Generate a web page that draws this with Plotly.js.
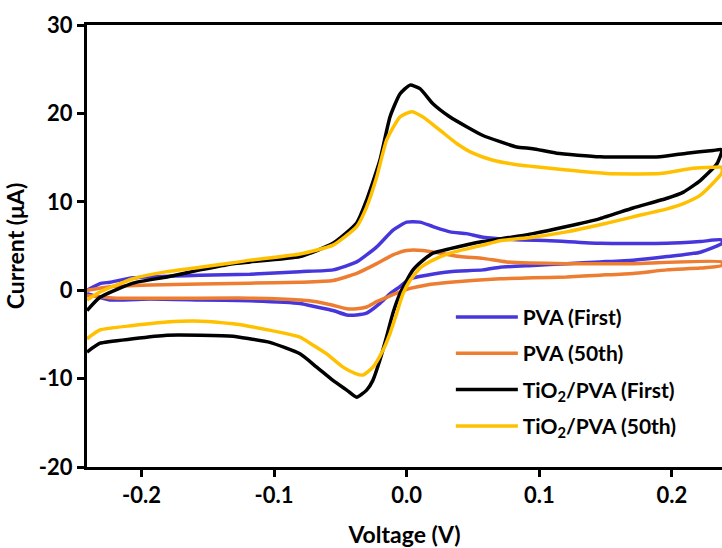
<!DOCTYPE html>
<html>
<head>
<meta charset="utf-8">
<script src="https://cdn.plot.ly/plotly-3.0.1.min.js"></script>
<style>html,body{margin:0;padding:0;background:#fff;}#chart{width:722px;height:548px;}</style>
</head>
<body>
<div id="chart"></div>
<script>
// Series names and colours
const seriesNames = ["PVA (First)", "PVA (50th)", "TiO<sub>2</sub>/PVA (First)", "TiO<sub>2</sub>/PVA (50th)"];
const seriesColors = ["#4636DC", "#ED7D31", "#000000", "#FFC000"];

// PVA (First)
const pvaFirstV = [-0.2411,-0.2313,-0.2238,-0.2064,-0.1559,-0.1182,-0.0805,-0.0556,-0.0377,-0.0226,-0.0103,0.0000,0.0100,0.0198,0.0327,0.0452,0.0575,0.0830,0.1081,0.1458,0.1964,0.2214,0.2378,
  0.2378,0.2214,0.1964,0.1707,0.1458,0.1206,0.0952,0.0704,0.0575,0.0327,0.0151,0.0025,-0.0051,-0.0126,-0.0202,-0.0302,-0.0377,-0.0452,-0.0556,-0.0679,-0.0805,-0.1182,-0.1559,-0.1935,-0.2238,-0.2411];
const pvaFirstI = [0.0,0.75,0.9,1.4,1.7,1.8,2.1,2.3,3.2,4.9,6.8,7.7,7.7,7.2,6.6,6.4,6.0,5.7,5.6,5.3,5.3,5.5,5.7,
  5.3,4.3,3.8,3.4,3.2,3.0,2.8,2.6,2.3,2.1,1.7,1.3,0.4,-0.4,-1.5,-2.6,-2.8,-2.8,-2.3,-1.9,-1.5,-1.2,-1.1,-1.0,-1.1,-0.4];

// PVA (50th)
const pva50V = [-0.2411,-0.2238,-0.1935,-0.1182,-0.0805,-0.0556,-0.0377,-0.0226,-0.0103,0.0000,0.0123,0.0251,0.0402,0.0575,0.0754,0.1206,0.1707,0.2378,
  0.2378,0.2214,0.1964,0.1707,0.1458,0.1206,0.0952,0.0704,0.0327,0.0151,0.0025,-0.0051,-0.0151,-0.0226,-0.0302,-0.0377,-0.0452,-0.0556,-0.0679,-0.0805,-0.1182,-0.2185,-0.2411];
const pva50I = [0.0,0.4,0.6,0.8,0.9,1.1,1.9,3.0,4.0,4.5,4.5,4.2,3.8,3.6,3.2,3.0,3.0,3.2,
  2.8,2.5,2.3,1.9,1.7,1.5,1.4,1.3,0.9,0.6,0.2,-0.2,-0.8,-1.3,-1.9,-2.1,-2.1,-1.7,-1.3,-1.1,-0.9,-0.9,-0.6];

// TiO2/PVA (First)
const tioFirstV = [-0.2411,-0.2313,-0.2064,-0.1808,-0.1559,-0.1310,-0.1182,-0.0805,-0.0556,-0.0377,-0.0302,-0.0202,-0.0126,-0.0051,0.0025,0.0100,0.0198,0.0327,0.0452,0.0575,0.0704,0.0830,0.0952,0.1131,0.1458,0.1910,0.2112,0.2310,0.2378,
  0.2340,0.2214,0.2087,0.1964,0.1707,0.1458,0.1206,0.0952,0.0704,0.0575,0.0327,0.0198,0.0124,0.0048,0.0000,-0.0051,-0.0104,-0.0152,-0.0202,-0.0255,-0.0302,-0.0377,-0.0452,-0.0556,-0.0679,-0.0805,-0.1032,-0.1182,-0.1310,-0.1559,-0.1808,-0.2064,-0.2313,-0.2411];
const tioFirstI = [-2.3,-0.8,0.8,1.5,2.3,3.0,3.2,3.8,5.3,7.6,10.2,14.7,19.6,22.2,23.2,22.8,21.1,19.6,18.5,17.5,16.8,16.2,16.0,15.5,15.1,15.1,15.5,15.8,15.9,
  14.3,12.4,11.1,10.4,9.3,8.1,7.2,6.4,5.8,5.5,4.7,4.2,3.4,2.3,1.1,-0.4,-2.6,-5.3,-7.9,-10.2,-11.3,-12.1,-11.3,-10.2,-8.7,-7.2,-5.9,-5.5,-5.2,-5.1,-5.1,-5.5,-6.0,-7.0];

// TiO2/PVA (50th)
const tio50V = [-0.2411,-0.2313,-0.2064,-0.1808,-0.1559,-0.1310,-0.1182,-0.0805,-0.0556,-0.0377,-0.0302,-0.0226,-0.0151,-0.0051,0.0038,0.0123,0.0251,0.0377,0.0500,0.0651,0.0830,0.0952,0.1206,0.1508,0.1910,0.2159,0.2310,0.2378,
  0.2378,0.2310,0.2210,0.2087,0.1964,0.1707,0.1458,0.1206,0.0952,0.0704,0.0575,0.0327,0.0198,0.0100,0.0025,-0.0028,-0.0075,-0.0126,-0.0179,-0.0254,-0.0330,-0.0390,-0.0480,-0.0603,-0.0729,-0.0805,-0.1182,-0.1310,-0.1559,-0.1808,-0.2064,-0.2313,-0.2411];
const tio50I = [-1.1,-0.2,1.3,2.1,2.6,3.1,3.4,4.1,5.1,7.2,9.4,12.8,17.0,19.6,20.2,19.6,18.1,16.6,15.5,14.7,14.2,14.0,13.6,13.2,13.2,13.8,13.9,13.9,
  13.3,12.1,10.7,9.8,9.2,8.3,7.4,6.6,6.0,5.6,5.1,4.2,3.4,2.5,1.1,-0.4,-2.6,-4.9,-6.8,-8.7,-9.6,-9.4,-8.7,-7.2,-6.0,-5.3,-4.1,-3.8,-3.5,-3.6,-4.0,-4.5,-5.5];

// Axis ticks
const xTickVals = [-0.2, -0.1, 0.0, 0.1, 0.2];
const xTickText = ["-0.2", "-0.1", "0.0", "0.1", "0.2"];
const yTickVals = [-20, -10, 0, 10, 20, 30];
const yTickText = ["-20", "-10", "0", "10", "20", "30"];

const xs = [pvaFirstV, pva50V, tioFirstV, tio50V];
const ys = [pvaFirstI, pva50I, tioFirstI, tio50I];

const FONT = "Lato, 'Open Sans', sans-serif";

const traces = xs.map((x, i) => ({
  type: "scatter",
  mode: "lines",
  x: x,
  y: ys[i],
  name: seriesNames[i],
  legendgroup: "g" + i,
  line: {color: seriesColors[i], width: 3.5, shape: "spline", smoothing: 0.5},
  hoverinfo: "skip"
}));

const layout = {
  width: 722,
  height: 548,
  margin: {l: 87, r: 0, t: 25, b: 81},
  paper_bgcolor: "#ffffff",
  plot_bgcolor: "#ffffff",
  font: {family: FONT, color: "#000", size: 22, weight: "bold"},
  showlegend: true,
  legend: {
    x: 0.573, y: 0.385, xanchor: "left", yanchor: "top",
    bgcolor: "rgba(0,0,0,0)",
    font: {family: FONT, size: 21, color: "#000", weight: "bold"},
    tracegroupgap: 6,
    itemwidth: 62
  },
  xaxis: {
    range: [-0.2411, 0.2378],
    tickvals: xTickVals, ticktext: xTickText,
    showgrid: false, zeroline: false,
    showline: true, linecolor: "#000", linewidth: 3, mirror: true,
    ticks: "outside", ticklen: 7, tickwidth: 3, tickcolor: "#000",
    tickfont: {family: FONT, size: 22, color: "#000", weight: "bold"},
    title: {text: "Voltage (V)", font: {family: FONT, size: 23, color: "#000", weight: "bold"}, standoff: 20}
  },
  yaxis: {
    range: [-20, 30],
    tickvals: yTickVals, ticktext: yTickText,
    showgrid: false, zeroline: false,
    showline: true, linecolor: "#000", linewidth: 3,
    ticks: "outside", ticklen: 7, tickwidth: 3, tickcolor: "#000",
    tickfont: {family: FONT, size: 22, color: "#000", weight: "bold"},
    title: {text: "Current (μA)", font: {family: FONT, size: 23, color: "#000", weight: "bold"}, standoff: 8}
  }
};

Plotly.newPlot("chart", traces, layout, {displayModeBar: false, staticPlot: true});
</script>
</body>
</html>
